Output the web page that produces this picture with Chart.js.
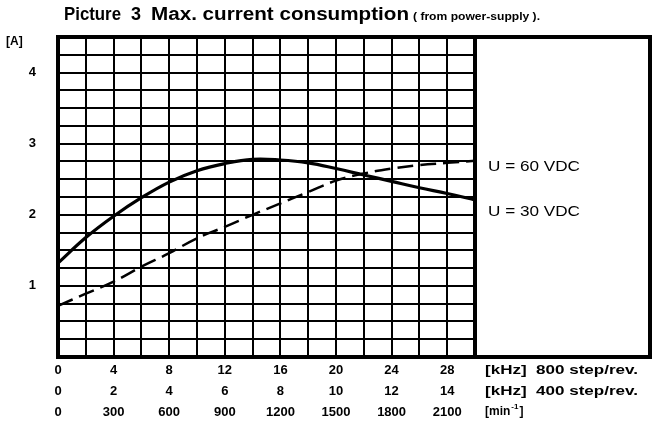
<!DOCTYPE html>
<html>
<head>
<meta charset="utf-8">
<script src="https://cdn.jsdelivr.net/npm/chart.js@4/dist/chart.umd.min.js"></script>
<style>
  html, body { margin: 0; padding: 0; background: #fff; }
  #wrap { width: 652px; height: 428px; }
</style>
</head>
<body>
<div id="wrap"><canvas id="c" width="652" height="428"></canvas></div>
<script>
// ---- data ----
const freq800 = [0, 2, 4, 6, 8, 10, 12, 14, 16, 18, 20, 22, 24, 26, 28, 30];          // kHz, 800 step/rev
const current60 = [0.72, 0.89, 1.06, 1.27, 1.46, 1.67, 1.83, 2.00, 2.16, 2.32, 2.48, 2.58, 2.65, 2.70, 2.73, 2.76]; // U = 60 VDC (dashed)
const current30 = [1.32, 1.68, 1.98, 2.24, 2.46, 2.62, 2.72, 2.78, 2.77, 2.73, 2.65, 2.56, 2.47, 2.38, 2.30, 2.21]; // U = 30 VDC (solid)

const ticks800 = [0, 4, 8, 12, 16, 20, 24, 28];
const ticks400 = [0, 2, 4, 6, 8, 10, 12, 14];
const ticksRpm = [0, 300, 600, 900, 1200, 1500, 1800, 2100];
const yTickLabels = [1, 2, 3, 4];

const unitLabels = ['[kHz]  800 step/rev.', '[kHz]  400 step/rev.'];
const seriesNames = ['U = 60 VDC', 'U = 30 VDC'];
const titleMain = ['Picture', '3', 'Max. current consumption'];
const titleSmall = '( from power-supply ).';
const yUnit = '[A]';

const FONT = '"Liberation Sans", Arial, sans-serif';

function toPoints(xs, ys) { return xs.map((x, i) => ({ x: x, y: ys[i] })); }

function fitText(ctx, text, x, y, width, font) {
  ctx.save();
  ctx.font = font;
  const w = ctx.measureText(text).width;
  ctx.translate(x, y);
  ctx.scale(width / w, 1);
  ctx.fillText(text, 0, 0);
  ctx.restore();
}

const decor = {
  id: 'decor',
  afterDraw(chart) {
    const ctx = chart.ctx;
    const a = chart.chartArea;
    const boxRight = 650;
    ctx.save();
    ctx.fillStyle = '#000';
    ctx.strokeStyle = '#000';
    // frame
    ctx.lineWidth = 4;
    ctx.beginPath();
    ctx.rect(a.left, a.top, boxRight - a.left, a.bottom - a.top);
    ctx.stroke();
    ctx.beginPath();
    ctx.moveTo(a.right, a.top);
    ctx.lineTo(a.right, a.bottom);
    ctx.stroke();

    // title
    ctx.textBaseline = 'alphabetic';
    ctx.textAlign = 'left';
    fitText(ctx, titleMain[0], 64, 20, 57, 'bold 18px ' + FONT);
    fitText(ctx, titleMain[1], 131, 20, 10, 'bold 18px ' + FONT);
    fitText(ctx, titleMain[2], 151, 20, 258, 'bold 18px ' + FONT);
    fitText(ctx, titleSmall, 413, 20, 127, 'bold 11.5px ' + FONT);

    // y unit
    ctx.font = 'bold 12px ' + FONT;
    ctx.fillText(yUnit, 6, 45);

    // legend labels next to line ends
    ctx.textBaseline = 'middle';
    fitText(ctx, seriesNames[0], 488, 167, 92, '15px ' + FONT);
    fitText(ctx, seriesNames[1], 488, 212, 92, '15px ' + FONT);

    // unit labels under the box
    const ticksY = chart.scales.x.top + 3;
    const lh = 13 * 1.6;
    ctx.textBaseline = 'middle';
    fitText(ctx, unitLabels[0], 485, ticksY + lh * 0.5, 153, 'bold 12px ' + FONT);
    fitText(ctx, unitLabels[1], 485, ticksY + lh * 1.5, 153, 'bold 12px ' + FONT);
    // [min^-1]
    const y3 = ticksY + lh * 2.5;
    ctx.font = 'bold 12px ' + FONT;
    let x = 485;
    ctx.fillText('[min', x, y3); x += ctx.measureText('[min').width + 1;
    ctx.font = 'bold 8px ' + FONT;
    ctx.fillText('-1', x, y3 - 5); x += ctx.measureText('-1').width + 1;
    ctx.font = 'bold 12px ' + FONT;
    ctx.fillText(']', x, y3);
    ctx.restore();
  }
};

new Chart(document.getElementById('c'), {
  type: 'line',
  data: {
    datasets: [
      {
        label: seriesNames[0],
        data: toPoints(freq800, current60),
        borderColor: '#000',
        borderWidth: 2.5,
        borderDash: [16, 7],
        pointRadius: 0,
        tension: 0.4,
        fill: false
      },
      {
        label: seriesNames[1],
        data: toPoints(freq800, current30),
        borderColor: '#000',
        borderWidth: 3.2,
        pointRadius: 0,
        tension: 0.4,
        fill: false
      }
    ]
  },
  options: {
    responsive: false,
    animation: false,
    devicePixelRatio: 1,
    layout: { padding: { top: 37, right: 177, left: 0, bottom: 0 } },
    plugins: { legend: { display: false }, title: { display: false }, tooltip: { enabled: false } },
    scales: {
      x: {
        type: 'linear',
        min: 0, max: 30,
        afterFit(s) { s.height = 71; },
        grid: { color: '#000', lineWidth: 2, drawTicks: false },
        border: { display: false },
        ticks: {
          stepSize: 2,
          autoSkip: false,
          maxRotation: 0,
          padding: 3,
          color: '#000',
          font: { family: FONT, size: 13, weight: 'bold', lineHeight: 1.6 },
          callback(v) {
            const i = ticks800.indexOf(v);
            if (i < 0) return '';
            return [String(ticks800[i]), String(ticks400[i]), String(ticksRpm[i])];
          }
        }
      },
      y: {
        min: 0, max: 4.5,
        afterFit(s) { s.width = 58; },
        grid: { color: '#000', lineWidth: 2, drawTicks: false },
        border: { display: false },
        ticks: {
          stepSize: 0.25,
          autoSkip: false,
          padding: 22,
          color: '#000',
          font: { family: FONT, size: 13, weight: 'bold' },
          callback(v) { return yTickLabels.includes(v) ? String(v) : ''; }
        }
      }
    }
  },
  plugins: [decor]
});
</script>
</body>
</html>
